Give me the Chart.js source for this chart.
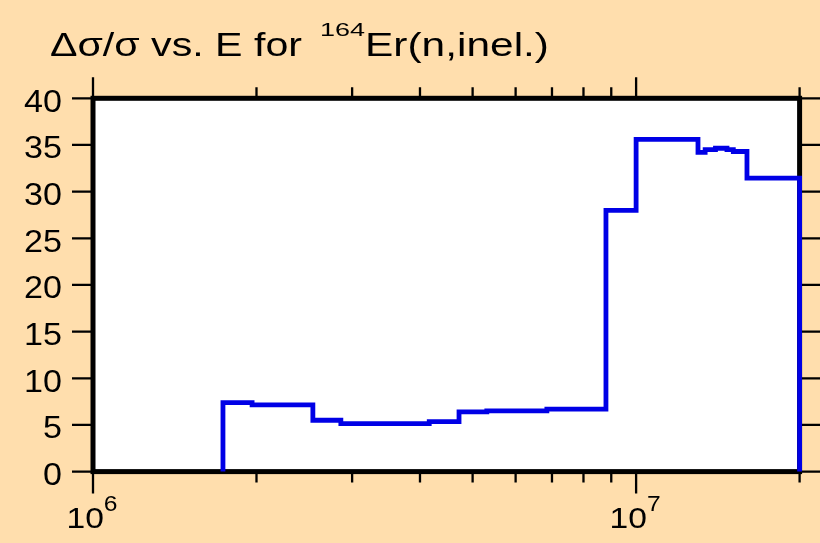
<!DOCTYPE html>
<html>
<head>
<meta charset="utf-8">
<script src="https://cdn.jsdelivr.net/npm/chart.js@4/dist/chart.umd.min.js"></script>
<style>
  html, body { margin: 0; padding: 0; background: #ffdead; }
  #wrap { width: 820px; height: 543px; }
</style>
</head>
<body>
<div id="wrap"><canvas id="chart1" width="820" height="543"></canvas></div>
<script>
// bin edges (eV) and relative uncertainty (%) per bin
const edges = [1.735e6, 1.963e6, 2.54e6, 2.86e6, 4.16e6, 4.72e6, 5.31e6, 6.85e6, 8.8e6,
               1.0e7, 1.30e7, 1.34e7, 1.40e7, 1.47e7, 1.51e7, 1.60e7, 2.0e7];
const values = [7.4, 7.15, 5.5, 5.15, 5.35, 6.4, 6.5, 6.7, 28.0,
                35.6, 34.2, 34.5, 34.65, 34.5, 34.3, 31.45];

const yTicks = [0, 5, 10, 15, 20, 25, 30, 35, 40];
const xMajor = [1e6, 1e7];
const xMajorLabels = [['10', '6'], ['10', '7']];
const xMinor = [2e6, 3e6, 4e6, 5e6, 6e6, 7e6, 8e6, 9e6, 2e7];

const titleMain = 'Δσ/σ vs. E for';
const titleSup = '164';
const titleEnd = 'Er(n,inel.)';

const FONT = '"Liberation Sans", Arial, Helvetica, sans-serif';

// histogram outline as points
const pts = [{x: edges[0], y: 0}];
values.forEach((v, i) => {
  pts.push({x: edges[i], y: v});
  pts.push({x: edges[i + 1], y: v});
});
pts.push({x: edges[edges.length - 1], y: 0});

function stretchText(ctx, str, x, y, size, sx, align){
  ctx.save();
  ctx.font = size + 'px ' + FONT;
  ctx.textAlign = align || 'left';
  ctx.textBaseline = 'alphabetic';
  ctx.translate(x, y);
  ctx.scale(sx, 1);
  ctx.fillText(str, 0, 0);
  ctx.restore();
}
function textW(ctx, str, size, sx){
  ctx.save();
  ctx.font = size + 'px ' + FONT;
  const w = ctx.measureText(str).width * sx;
  ctx.restore();
  return w;
}
// draw text squeezed/stretched to span [x0, x1]
function fitText(ctx, str, x0, x1, y, size){
  const sx = (x1 - x0) / textW(ctx, str, size, 1);
  stretchText(ctx, str, x0, y, size, sx);
}

const framePlugin = {
  id: 'frame',
  beforeDraw(chart){
    const {ctx, chartArea: a} = chart;
    ctx.save();
    ctx.fillStyle = '#ffdead';
    ctx.fillRect(0, 0, chart.width, chart.height);
    ctx.fillStyle = '#ffffff';
    ctx.fillRect(a.left, a.top, a.right - a.left, a.bottom - a.top);
    ctx.restore();
  },
  beforeDatasetsDraw(chart){
    const {ctx, chartArea: a, scales: {x, y}} = chart;
    ctx.save();
    ctx.strokeStyle = '#000';
    ctx.fillStyle = '#000';
    // ticks
    ctx.lineWidth = 2.3;
    ctx.beginPath();
    yTicks.forEach(v => {
      const py = y.getPixelForValue(v);
      ctx.moveTo(a.left - 21, py); ctx.lineTo(a.left, py);
      ctx.moveTo(a.right, py); ctx.lineTo(a.right + 22, py);
    });
    xMajor.forEach(v => {
      const px = x.getPixelForValue(v);
      ctx.moveTo(px, a.top - 21); ctx.lineTo(px, a.top);
      ctx.moveTo(px, a.bottom); ctx.lineTo(px, a.bottom + 22);
    });
    xMinor.forEach(v => {
      const px = x.getPixelForValue(v);
      ctx.moveTo(px, a.top - 11); ctx.lineTo(px, a.top);
      ctx.moveTo(px, a.bottom); ctx.lineTo(px, a.bottom + 11);
    });
    ctx.stroke();
    // frame
    ctx.lineWidth = 5;
    ctx.strokeRect(a.left, a.top, a.right - a.left, a.bottom - a.top);
    // y labels
    yTicks.forEach(v => {
      stretchText(ctx, String(v), 62, y.getPixelForValue(v) + 13.5, 31, 1.1, 'right');
    });
    // x labels
    xMajor.forEach((v, i) => {
      const px = x.getPixelForValue(v);
      const [base, exp] = xMajorLabels[i];
      const wb = textW(ctx, base, 30, 1.12);
      const we = textW(ctx, exp, 22, 1.12);
      const x0 = px - (wb + we) / 2 - 1;
      stretchText(ctx, base, x0, 527.5, 30, 1.12);
      stretchText(ctx, exp, x0 + wb, 510.5, 22, 1.12);
    });
    // title
    fitText(ctx, titleMain, 50, 302, 56, 33);
    fitText(ctx, titleSup, 320, 365, 36, 19);
    fitText(ctx, titleEnd, 365, 549, 56, 33);
    ctx.restore();
  }
};

new Chart(document.getElementById('chart1').getContext('2d'), {
  type: 'line',
  data: {
    datasets: [{
      data: pts,
      borderColor: '#0000e6',
      borderWidth: 4.8,
      pointRadius: 0,
      tension: 0,
      fill: false,
      clip: false,
      borderJoinStyle: 'miter',
      borderCapStyle: 'butt'
    }]
  },
  options: {
    responsive: false,
    animation: false,
    devicePixelRatio: 1,
    layout: { padding: { left: 93, right: 20.4, top: 98.3, bottom: 71.4 } },
    plugins: { legend: { display: false }, tooltip: { enabled: false }, title: { display: false } },
    scales: {
      x: { type: 'logarithmic', min: 1e6, max: 2e7, display: false },
      y: { type: 'linear', min: 0, max: 40, display: false }
    }
  },
  plugins: [framePlugin]
});
</script>
</body>
</html>
